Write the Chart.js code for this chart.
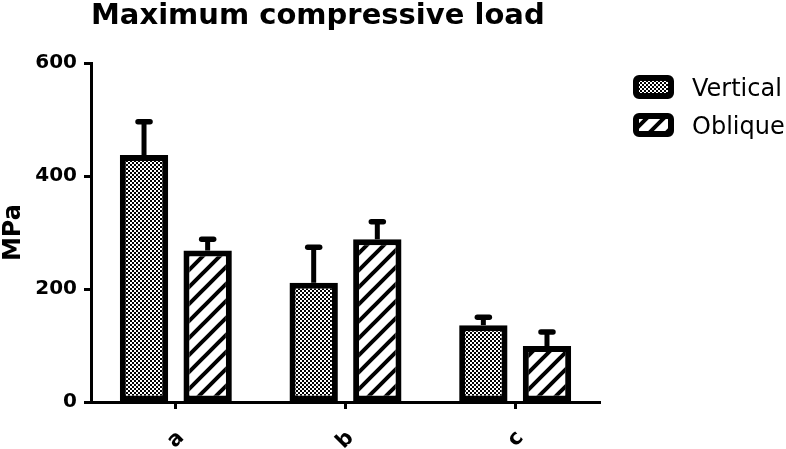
<!DOCTYPE html>
<html>
<head>
<meta charset="utf-8">
<script src="https://cdn.jsdelivr.net/npm/chart.js@4.4.1/dist/chart.umd.min.js"></script>
<style>
  html, body { margin: 0; padding: 0; background: #fff; }
</style>
</head>
<body>
<canvas id="chart" width="786" height="449"></canvas>
<script>
// ---- data ----
var categories = ["a", "b", "c"];
var seriesNames = ["Vertical", "Oblique"];
var verticalMeans = [437, 211, 136];
var verticalErrTop = [496, 274, 150];   // mean + SD
var obliqueMeans = [268, 288, 99];
var obliqueErrTop = [288, 319, 124];
var yTicks = [0, 200, 400, 600];

//===========================================================================================
// ~~ fill patterns ~~
function checkerPattern() {
  var c = document.createElement("canvas");
  c.width = 4; c.height = 4;
  var g = c.getContext("2d");
  g.fillStyle = "#000"; g.fillRect(0, 0, 4, 4);
  g.fillStyle = "#fff"; g.fillRect(0, 0, 2, 2); g.fillRect(2, 2, 2, 2);
  return g.createPattern(c, "repeat");
}

function hatchPattern() {
  var s = 17;
  var c = document.createElement("canvas");
  c.width = s; c.height = s;
  var g = c.getContext("2d");
  g.fillStyle = "#fff"; g.fillRect(0, 0, s, s);
  g.strokeStyle = "#000"; g.lineWidth = 4;
  g.beginPath();
  g.moveTo(-3, s + 3); g.lineTo(s + 3, -3);
  g.moveTo(-3, 3); g.lineTo(3, -3);
  g.moveTo(s - 3, s + 3); g.lineTo(s + 3, s - 3);
  g.stroke();
  return g.createPattern(c, "repeat");
}

//===========================================================================================
// ~~ error bars (upper only) ~~
var errorBars = {
  id: "errorBars",
  afterDatasetsDraw: function(chart) {
    var ctx = chart.ctx;
    var y = chart.scales.y;
    chart.data.datasets.forEach(function(ds, i) {
      var meta = chart.getDatasetMeta(i);
      meta.data.forEach(function(bar, j) {
        var top = y.getPixelForValue(ds.errTop[j]);
        ctx.save();
        ctx.strokeStyle = "#000";
        ctx.lineWidth = 5;
        ctx.beginPath(); ctx.moveTo(bar.x, bar.y); ctx.lineTo(bar.x, top); ctx.stroke();
        ctx.lineWidth = 5.5; ctx.lineCap = "round";
        ctx.beginPath(); ctx.moveTo(bar.x - 6, top); ctx.lineTo(bar.x + 6, top); ctx.stroke();
        ctx.restore();
      });
    });
  }
};

//===========================================================================================
// ~~ legend on the right ~~
var sideLegend = {
  id: "sideLegend",
  afterDraw: function(chart) {
    var ctx = chart.ctx;
    var a = chart.chartArea;
    chart.data.datasets.forEach(function(ds, i) {
      var bx = a.right + 36, by = a.top + 15 + i * 38;
      ctx.save();
      ctx.fillStyle = ds.backgroundColor;
      ctx.beginPath(); ctx.roundRect(bx, by, 35, 18, 3); ctx.fill();
      ctx.lineWidth = 6; ctx.strokeStyle = "#000"; ctx.stroke();
      ctx.fillStyle = "#000";
      ctx.font = "24px 'DejaVu Sans'";
      ctx.textBaseline = "alphabetic";
      ctx.fillText(ds.label, a.right + 92, by + 18);
      ctx.restore();
    });
  }
};

Chart.defaults.font.family = "'DejaVu Sans'";
Chart.defaults.color = "#000";

new Chart(document.getElementById("chart"), {
  type: "bar",
  data: {
    labels: categories,
    datasets: [{
      label: seriesNames[0],
      data: verticalMeans,
      errTop: verticalErrTop,
      backgroundColor: checkerPattern(),
      borderColor: "#000",
      borderWidth: 6,
      borderSkipped: false,
      categoryPercentage: 0.75,
      barPercentage: 0.76
    }, {
      label: seriesNames[1],
      data: obliqueMeans,
      errTop: obliqueErrTop,
      backgroundColor: hatchPattern(),
      borderColor: "#000",
      borderWidth: 6,
      borderSkipped: false,
      categoryPercentage: 0.75,
      barPercentage: 0.76
    }]
  },
  options: {
    responsive: false,
    animation: false,
    layout: { padding: { left: 0, right: 186, top: 0, bottom: 0 } },
    plugins: {
      legend: { display: false },
      tooltip: { enabled: false },
      title: {
        display: true,
        text: "Maximum compressive load",
        align: "start",
        fullSize: false,
        font: { family: "'DejaVu Sans'", size: 29, weight: "bold", lineHeight: 1 },
        padding: { top: 2, bottom: 32 }
      }
    },
    scales: {
      x: {
        afterFit: function(scale) { scale.height = 47; },
        grid: { drawOnChartArea: false, offset: false, tickLength: 7, tickWidth: 3, tickColor: "#000" },
        border: { color: "#000", width: 3 },
        ticks: {
          font: { family: "'DejaVu Sans'", size: 21, weight: "bold", lineHeight: 0.5 },
          minRotation: 45, maxRotation: 45, padding: 22, labelOffset: 5
        }
      },
      y: {
        min: 0,
        max: 600,
        afterFit: function(scale) { scale.width = 91; },
        afterBuildTicks: function(scale) {
          scale.ticks = yTicks.map(function(v) { return { value: v }; });
        },
        grid: { drawOnChartArea: false, tickLength: 7, tickWidth: 3, tickColor: "#000" },
        border: { color: "#000", width: 3 },
        ticks: { font: { family: "'DejaVu Sans'", size: 20, weight: "bold" }, padding: 7 },
        title: {
          display: true,
          text: "MPa",
          font: { family: "'DejaVu Sans'", size: 24, weight: "bold", lineHeight: 1 },
          padding: { top: 2, bottom: 5 }
        }
      }
    }
  },
  plugins: [errorBars, sideLegend]
});
</script>
</body>
</html>
